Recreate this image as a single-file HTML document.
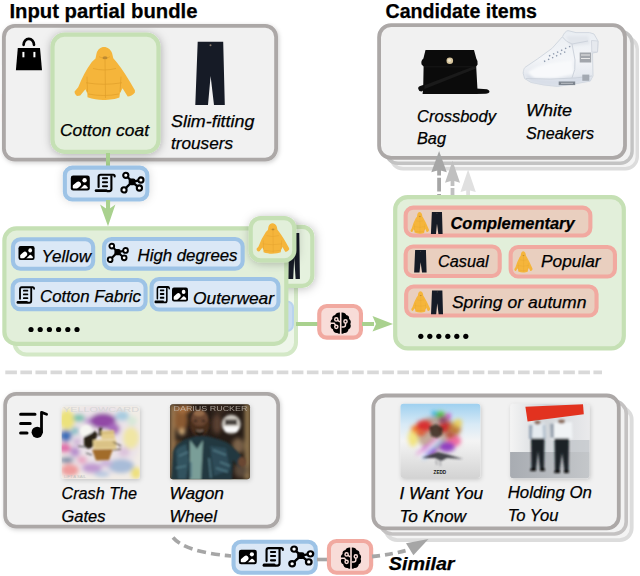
<!DOCTYPE html>
<html><head><meta charset="utf-8"><style>
html,body{margin:0;padding:0;background:#fff;width:640px;height:576px;overflow:hidden;}
svg{display:block;}
text{font-family:"Liberation Sans",sans-serif;}
</style></head><body>
<svg width="640" height="576" viewBox="0 0 640 576"><defs>
 <symbol id="img" viewBox="0 0 19 15" overflow="visible" preserveAspectRatio="none">
  <clipPath id="imgclip"><rect x="2" y="2" width="15" height="11" rx="0.8"/></clipPath>
  <rect x="0" y="0" width="19" height="15" rx="2.4" fill="#000"/>
  <g clip-path="url(#imgclip)">
   <rect x="-1.5" y="8.2" width="12.5" height="5.4" rx="2.7" transform="rotate(-40 4.8 10.9)" fill="#fff"/>
   <path d="M8.6,14 L13.2,9.6 Q14,8.9 14.8,9.6 L19.5,14 Z" fill="#fff"/>
  </g>
  <circle cx="13.8" cy="4.7" r="2.2" fill="#fff"/>
 </symbol>
 <symbol id="doc" viewBox="0 0 21 18.6" overflow="visible" preserveAspectRatio="none">
  <path d="M3.9,13.2 L3.9,3 Q3.9,1.05 5.9,1.05 L18.6,1.05 Q20,1.05 20,2.7" fill="none" stroke="#000" stroke-width="2.1" stroke-linecap="round"/>
  <path d="M16.7,1.5 L16.7,15.3 Q16.7,17.4 14.5,17.4 L12,17.4" fill="none" stroke="#000" stroke-width="2.1"/>
  <path d="M1.4,15.5 L11.6,15.5 Q12.9,15.5 12.9,16.95 Q12.9,18.4 11.6,18.4 L1.4,18.4 Q0,18.4 0,16.95 Q0,15.5 1.4,15.5 Z" fill="#000"/>
  <path d="M8.2,4.6 H12.4 M8.2,8.5 H12.4 M8.2,12.5 H12.4" stroke="#000" stroke-width="1.9" stroke-linecap="round"/>
 </symbol>
 <symbol id="graph" viewBox="0 0 22.5 20.5" overflow="visible" preserveAspectRatio="none">
  <path d="M4.7,2.8 L11,9.3 L2.9,17.4 M11,9.3 L19.8,7.5 M11,9.3 L18.3,15.5" stroke="#000" stroke-width="2.3" fill="none"/>
  <rect x="7.6" y="5.9" width="6.8" height="6.8" rx="2.2" fill="#000"/>
  <circle cx="4.7" cy="2.8" r="2.6" fill="#fff" stroke="#000" stroke-width="2.1"/>
  <circle cx="2.9" cy="17.4" r="2.6" fill="#fff" stroke="#000" stroke-width="2.1"/>
  <circle cx="19.8" cy="7.5" r="2.6" fill="#fff" stroke="#000" stroke-width="2.1"/>
  <circle cx="18.3" cy="15.5" r="2.6" fill="#fff" stroke="#000" stroke-width="2.1"/>
 </symbol>
 <symbol id="brain" viewBox="0 0 22 22" overflow="visible" preserveAspectRatio="none">
  <path d="M10.2,0.5 C7.5,0.3 6,1.5 5.5,3 C3.3,3.2 2.2,5 2.6,7 C0.8,8 0.4,10.5 1.4,12 C0.3,13.8 1,16.5 3.2,17.3 C3.4,19.8 5.4,21.3 7.6,21 C8.5,21.9 9.5,21.9 10.2,21.5 Z" fill="#000"/>
  <path d="M11.8,0.5 C14.5,0.3 16,1.5 16.5,3 C18.7,3.2 19.8,5 19.4,7 C21.2,8 21.6,10.5 20.6,12 C21.7,13.8 21,16.5 18.8,17.3 C18.6,19.8 16.6,21.3 14.4,21 C13.5,21.9 12.5,21.9 11.8,21.5 Z" fill="#000"/>
  <g fill="none" stroke="#f8dcd8" stroke-width="1.45">
   <circle cx="6.6" cy="7.4" r="1.6"/>
   <circle cx="6.6" cy="14.8" r="1.6"/>
   <path d="M8,8.3 L10.2,9.8 M0,11.2 L4.5,11.2 L5.8,13.2"/>
   <circle cx="15.8" cy="9.4" r="1.6"/>
   <path d="M15.8,11 L15.8,13 Q15.8,15 13.5,15 L11.8,15"/>
  </g>
 </symbol>
 <symbol id="coat" viewBox="2.3 3 60.7 51.9" overflow="visible" preserveAspectRatio="none">
  <path d="M32,3 C28.5,3 25.8,5.5 24.6,9 L23.5,14.2 L19.8,17.6 Q12,28 6.2,42.3 L2.6,46.5 C2.3,48.5 4,50.5 5.5,51 L8.2,50.6 L13.4,44.3 L15.3,48.5 L15.5,52.3 C21,54 26,54.8 31,54.8 C38,54.8 44,53.8 47.4,52.4 L47.9,48.5 L50.5,43.3 L55.7,51.5 C58,51.5 61,50 62.9,47.5 L62.9,45.4 Q53,28 44.5,17.6 L41.3,14 L40.1,9 C38.8,5.5 35.5,3 32,3 Z" fill="#f5b53b"/>
  <path d="M27,12.5 Q33,15.5 38,12.5 M33,15 L33.5,53 M15,32 L15.5,47 M49,32 L48,47 M14,38 Q32,41 50,38 M16,49 Q32,52 47,49 M21,24 Q32,27 44,24" fill="none" stroke="#de9d2a" stroke-width="0.9" opacity="0.75"/>
  <ellipse cx="33" cy="13.5" rx="2.5" ry="1.5" fill="#a87a30" opacity="0.7"/>
 </symbol>
 <symbol id="pants" viewBox="0 0 30 63" overflow="visible" preserveAspectRatio="none">
  <path d="M2.7,0 L28.2,0 L29.8,63 L19,63 L15.6,34 L13,63 L0.3,63 Z" fill="#161b26"/>
  <circle cx="15.5" cy="3.5" r="1" fill="#8a7a6a"/>
 </symbol>
 <filter id="sh" x="-20%" y="-20%" width="140%" height="140%">
  <feDropShadow dx="0.5" dy="1" stdDeviation="4.5" flood-color="#000" flood-opacity="0.28"/>
 </filter>
 <filter id="shs" x="-20%" y="-20%" width="140%" height="140%">
  <feDropShadow dx="1" dy="1.5" stdDeviation="2" flood-color="#000" flood-opacity="0.18"/>
 </filter>
 <filter id="sht" x="-50%" y="-50%" width="200%" height="200%">
  <feDropShadow dx="1" dy="1" stdDeviation="5" flood-color="#000" flood-opacity="0.25"/>
 </filter>
 <filter id="shb" x="-50%" y="-50%" width="200%" height="200%">
  <feDropShadow dx="0" dy="0" stdDeviation="4" flood-color="#000" flood-opacity="0.14"/>
 </filter>
 <filter id="bl2" x="-50%" y="-50%" width="200%" height="200%"><feGaussianBlur stdDeviation="2"/></filter>
 <filter id="bl3" x="-50%" y="-50%" width="200%" height="200%"><feGaussianBlur stdDeviation="3.5"/></filter>
 <filter id="bl1" x="-50%" y="-50%" width="200%" height="200%"><feGaussianBlur stdDeviation="1"/></filter>
 <clipPath id="c1"><rect x="61.6" y="406.2" width="78.2" height="72.8" rx="3"/></clipPath>
 <clipPath id="c2"><rect x="170" y="404.2" width="80" height="75" rx="3"/></clipPath>
 <clipPath id="c3"><rect x="400.5" y="403.8" width="79.8" height="74.2" rx="3"/></clipPath>
 <clipPath id="c4"><rect x="510.1" y="403.8" width="79.4" height="74.4" rx="3"/></clipPath>
</defs>
<text x="9.4" y="17.5" textLength="188.1" lengthAdjust="spacingAndGlyphs" font-family="Liberation Sans" font-size="20.3" font-style="normal" font-weight="bold" fill="#000" stroke="#000" stroke-width="0.25">Input partial bundle</text>
<text x="385.5" y="17.5" textLength="151.5" lengthAdjust="spacingAndGlyphs" font-family="Liberation Sans" font-size="20.3" font-style="normal" font-weight="bold" fill="#000" stroke="#000" stroke-width="0.25">Candidate items</text>
<g filter="url(#shs)"><rect x="3.90" y="25.90" width="272.20" height="133.70" rx="11" fill="#f1f1f1" stroke="#aca8a7" stroke-width="3.8" /></g>
<path d="M23.6,44.8 A5.2,6 0 0 1 34,44.8" fill="none" stroke="#000" stroke-width="2.7" stroke-linecap="round"/>
<path d="M17.8,48 L40,48 L42,70.2 L15.9,70.2 Z" fill="#000"/>
<rect x="22.4" y="51.9" width="2" height="5.4" fill="#fff"/><rect x="33.4" y="51.9" width="2" height="5.4" fill="#fff"/>
<g filter="url(#sh)"><rect x="52.50" y="34.70" width="106.00" height="117.20" rx="12" fill="#e2efda" stroke="#c5e0b4" stroke-width="4.2" /></g>
<use href="#coat" x="74.30" y="47.00" width="60.70" height="53.00"/>
<text x="60" y="135.7" textLength="89.0" lengthAdjust="spacingAndGlyphs" font-family="Liberation Sans" font-size="17" font-style="italic" font-weight="normal" fill="#000" stroke="#000" stroke-width="0.25">Cotton coat</text>
<use href="#pants" x="195.00" y="41.80" width="30.00" height="63.20"/>
<text x="171" y="127" textLength="83.4" lengthAdjust="spacingAndGlyphs" font-family="Liberation Sans" font-size="17" font-style="italic" font-weight="normal" fill="#000" stroke="#000" stroke-width="0.25">Slim-fitting</text>
<text x="171" y="149" textLength="62.0" lengthAdjust="spacingAndGlyphs" font-family="Liberation Sans" font-size="17" font-style="italic" font-weight="normal" fill="#000" stroke="#000" stroke-width="0.25">trousers</text>
<rect x="106" y="153" width="4" height="14" fill="#a9d18e"/>
<g filter="url(#shb)"><rect x="64.85" y="167.65" width="82.50" height="31.80" rx="7.5" fill="#dbe8f6" stroke="#9dc3e6" stroke-width="4.1" /></g>
<use href="#img" x="70.80" y="175.60" width="19.00" height="15.00"/>
<use href="#doc" x="94.70" y="173.70" width="21.00" height="18.60"/>
<use href="#graph" x="121.10" y="172.50" width="22.50" height="20.50"/>
<rect x="106" y="200" width="4.1" height="11" fill="#a9d18e"/>
<path d="M100.1,204.4 L108,209.7 L115.4,204.4 L108,226.3 Z" fill="#a9d18e"/>
<rect x="14.50" y="238.50" width="281.50" height="116.00" rx="12" fill="#eef6ea" stroke="#d3e8c6" stroke-width="4" />
<rect x="280" y="301.5" width="13" height="29.5" rx="6" fill="#c9dcf0" stroke="#b9d3ee" stroke-width="2"/>
<g filter="url(#sht)"><rect x="264.10" y="226.80" width="48.20" height="59.00" rx="10" fill="#e5f1de" stroke="#c5e0b4" stroke-width="4.2" /></g>
<use href="#pants" x="288.00" y="233.00" width="12.00" height="46.00"/>
<rect x="4.40" y="228.40" width="281.90" height="115.50" rx="12" fill="#e2efda" stroke="#c5e0b4" stroke-width="4.2" />
<g filter="url(#sht)"><rect x="250.70" y="218.10" width="43.60" height="42.30" rx="10" fill="#e2efda" stroke="#c5e0b4" stroke-width="4.2" /></g>
<use href="#coat" x="256.40" y="223.30" width="32.80" height="30.50"/>
<rect x="12.95" y="239.25" width="80.20" height="29.50" rx="7.5" fill="#dbe8f6" stroke="#9dc3e6" stroke-width="4.1" />
<use href="#img" x="18.50" y="246.00" width="16.10" height="14.00"/>
<text x="41.6" y="262" textLength="49.4" lengthAdjust="spacingAndGlyphs" font-family="Liberation Sans" font-size="17" font-style="italic" font-weight="normal" fill="#000" stroke="#000" stroke-width="0.25">Yellow</text>
<rect x="104.05" y="239.05" width="138.60" height="29.60" rx="7.5" fill="#dbe8f6" stroke="#9dc3e6" stroke-width="4.1" />
<use href="#graph" x="107.50" y="243.50" width="20.50" height="19.00"/>
<text x="137.5" y="260.5" textLength="100.0" lengthAdjust="spacingAndGlyphs" font-family="Liberation Sans" font-size="17" font-style="italic" font-weight="normal" fill="#000" stroke="#000" stroke-width="0.25">High degrees</text>
<rect x="12.65" y="280.05" width="132.90" height="29.10" rx="7.5" fill="#dbe8f6" stroke="#9dc3e6" stroke-width="4.1" />
<use href="#doc" x="16.60" y="286.30" width="18.40" height="17.70"/>
<text x="40" y="302.2" textLength="101.0" lengthAdjust="spacingAndGlyphs" font-family="Liberation Sans" font-size="17" font-style="italic" font-weight="normal" fill="#000" stroke="#000" stroke-width="0.25">Cotton Fabric</text>
<rect x="151.55" y="279.05" width="126.90" height="30.50" rx="7.5" fill="#dbe8f6" stroke="#9dc3e6" stroke-width="4.1" />
<use href="#doc" x="154.50" y="286.00" width="15.50" height="17.50"/>
<use href="#img" x="172.00" y="287.50" width="16.00" height="14.00"/>
<text x="193" y="303.5" textLength="81.0" lengthAdjust="spacingAndGlyphs" font-family="Liberation Sans" font-size="17" font-style="italic" font-weight="normal" fill="#000" stroke="#000" stroke-width="0.25">Outerwear</text>
<circle cx="31.0" cy="329.5" r="2.6" fill="#000"/>
<circle cx="40.2" cy="329.5" r="2.6" fill="#000"/>
<circle cx="49.4" cy="329.5" r="2.6" fill="#000"/>
<circle cx="58.6" cy="329.5" r="2.6" fill="#000"/>
<circle cx="67.8" cy="329.5" r="2.6" fill="#000"/>
<circle cx="77.0" cy="329.5" r="2.6" fill="#000"/>
<rect x="296" y="322" width="22" height="4" fill="#a9d18e"/>
<rect x="319.25" y="306.05" width="41.70" height="31.60" rx="7.5" fill="#f8dcd8" stroke="#f1a9a0" stroke-width="4.1" />
<use href="#brain" x="329.70" y="312.00" width="22.00" height="22.00"/>
<rect x="362" y="322" width="12" height="4" fill="#a9d18e"/>
<path d="M372.5,316 L376,324 L372.5,331.5 L393,324 Z" fill="#a9d18e"/>
<rect x="390.90" y="37.30" width="246.40" height="131.40" rx="12" fill="#f4f4f4" stroke="#dcdcdc" stroke-width="3.4" />
<rect x="385.90" y="31.30" width="246.20" height="132.00" rx="12" fill="#f2f2f2" stroke="#c3c3c3" stroke-width="3.4" />
<rect x="379.10" y="25.20" width="245.90" height="132.60" rx="12" fill="#f1f1f1" stroke="#aca8a7" stroke-width="3.8" />
<g>
<path d="M425.5,50 L474,50 L476.3,58.5 Q478.2,61 477.6,64.5 L476.2,66.5 L477.4,88 L477.4,94 L422.6,94 L423.2,88 L423.6,66.5 L421.6,64.5 Q420.6,60.5 423.4,58.5 Z" fill="#0b0b0b"/>
<path d="M424,66.8 L476,66.8" stroke="#1c1c1c" stroke-width="0.8"/>
<path d="M424,85.5 L472,67 L476,67.3 L476,68.6 L424,89.2 Z" fill="#1a1a1a"/>
<path d="M418.3,89 Q417.6,86.8 420.2,86 L424.5,84.6 L424.5,89.8 L421.5,91.6 Q418.9,91.6 418.3,89 Z" fill="#0e0e0e"/>
<path d="M476,88.4 L487,89.3 Q490.3,90.5 489.2,92.6 Q488.5,93.7 486,93.7 L476,94 Z" fill="#0b0b0b"/>
<circle cx="449.8" cy="60.8" r="3.3" fill="#d6c49c"/>
<circle cx="449.4" cy="60.3" r="1.6" fill="#ece2c8"/>
</g>
<g>
<defs><linearGradient id="gsn" x1="0" y1="0" x2="0" y2="1"><stop offset="0" stop-color="#e9edf2"/><stop offset="0.5" stop-color="#f3f5f8"/><stop offset="1" stop-color="#dde2ea"/></linearGradient></defs>
<path d="M523.2,73.2 C523.5,69 524.5,67.5 526,66.7 L537.7,58.8 L552.1,48.3 L562.6,36.5 C564,33 566,31 568,30.6 L576,32.6 L589.5,32.6 L594,34 L598,41 L597.5,52 L592.5,53 L593,76 L590.2,81.1 L575.7,83.7 L557.4,86.4 L544.2,85 L531,82.4 L524.6,78.5 Z" fill="url(#gsn)" stroke="#d2d8e0" stroke-width="1"/>
<g filter="url(#bl1)">
<path d="M528,72 Q540,64 556,62 L572,60 L574,74 L556,78 L534,78 Z" fill="#f8f9fb"/>
<path d="M566,36 L588,36 L590,44 L570,46 Z" fill="#e2e6ec"/>
<path d="M525,74 Q535,80 555,80 L590,76 L591,80 L575,83 L557,85.5 L544,84.5 L531,82 Z" fill="#d8dee8"/>
</g>
<path d="M549,56 L571,46 M544,61.5 L566,51.5" stroke="#8e9aae" stroke-width="1.4" stroke-dasharray="1.4 3" fill="none"/>
<path d="M562.5,37 Q566,42 572,44 L588,41 M572,44 L575,60 Q576,70 572,78 M526,78.5 Q550,80 575,78 L592,76" stroke="#cdd3dc" stroke-width="1" fill="none"/>
<path d="M591.5,40.5 L598,41 L597.5,52 L591.8,52.2 Z" fill="#e6e9ee" stroke="#cdd2da" stroke-width="0.8"/>
<rect x="579.7" y="52.5" width="11.5" height="10" fill="#a2a6ac"/>
<path d="M581,55 H590 M581,58.5 H590" stroke="#e8e8e8" stroke-width="1"/>
<rect x="558.7" y="81.5" width="16.5" height="3.6" fill="#7e8690"/>
<path d="M561,83.3 H573" stroke="#c8ccd2" stroke-width="0.8"/>
<rect x="582.3" y="74.6" width="7" height="6.2" fill="#a4aab2"/>
</g>
<text x="417" y="122" textLength="79.0" lengthAdjust="spacingAndGlyphs" font-family="Liberation Sans" font-size="17" font-style="italic" font-weight="normal" fill="#000" stroke="#000" stroke-width="0.25">Crossbody</text>
<text x="417" y="144" textLength="29.0" lengthAdjust="spacingAndGlyphs" font-family="Liberation Sans" font-size="17" font-style="italic" font-weight="normal" fill="#000" stroke="#000" stroke-width="0.25">Bag</text>
<text x="526" y="116" textLength="46.0" lengthAdjust="spacingAndGlyphs" font-family="Liberation Sans" font-size="17" font-style="italic" font-weight="normal" fill="#000" stroke="#000" stroke-width="0.25">White</text>
<text x="526" y="139" textLength="68.0" lengthAdjust="spacingAndGlyphs" font-family="Liberation Sans" font-size="17" font-style="italic" font-weight="normal" fill="#000" stroke="#000" stroke-width="0.25">Sneakers</text>
<path d="M439.1,169 L439.1,195" stroke="#a6a6a6" stroke-width="3.8" stroke-dasharray="6.5 2.2 13.7 2.5"/>
<path d="M439.1,151 L446.8,172.3 L439.1,170 L431.3,172.3 Z" fill="#a6a6a6"/>
<path d="M452.5,179 L452.5,195" stroke="#c0c0c0" stroke-width="3.8" stroke-dasharray="7 2 13 2.5"/>
<path d="M452.5,160.8 L460,182.7 L452.5,180.5 L445,182.7 Z" fill="#c0c0c0"/>
<path d="M468.1,169.5 L475.8,192 L468.1,190 L460.5,192 Z" fill="#e0e0e0"/>
<rect x="466.2" y="189" width="3.8" height="6" fill="#e0e0e0"/>
<rect x="395.20" y="197.10" width="228.60" height="151.30" rx="12.5" fill="#e2efda" stroke="#c5e0b4" stroke-width="4.2" />
<rect x="405.65" y="207.65" width="184.70" height="27.80" rx="7.5" fill="#e9cfbf" stroke="#f1a9a0" stroke-width="4.1" />
<use href="#coat" x="410.50" y="212.00" width="18.50" height="21.70"/>
<use href="#pants" x="430.80" y="212.00" width="11.90" height="22.00"/>
<text x="450.5" y="228.75" textLength="124.1" lengthAdjust="spacingAndGlyphs" font-family="Liberation Sans" font-size="17" font-style="italic" font-weight="bold" fill="#000" stroke="#000" stroke-width="0.25">Complementary</text>
<rect x="405.65" y="246.45" width="94.05" height="29.50" rx="7.5" fill="#e9cfbf" stroke="#f1a9a0" stroke-width="4.1" />
<use href="#pants" x="414.00" y="250.00" width="12.70" height="22.50"/>
<text x="438" y="267" textLength="50.6" lengthAdjust="spacingAndGlyphs" font-family="Liberation Sans" font-size="17" font-style="italic" font-weight="normal" fill="#000" stroke="#000" stroke-width="0.25">Casual</text>
<rect x="510.65" y="247.05" width="104.30" height="29.50" rx="7.5" fill="#e9cfbf" stroke="#f1a9a0" stroke-width="4.1" />
<use href="#coat" x="514.30" y="251.20" width="18.20" height="21.30"/>
<text x="541" y="267.4" textLength="59.6" lengthAdjust="spacingAndGlyphs" font-family="Liberation Sans" font-size="17" font-style="italic" font-weight="normal" fill="#000" stroke="#000" stroke-width="0.25">Popular</text>
<rect x="406.15" y="286.55" width="190.40" height="29.00" rx="7.5" fill="#e9cfbf" stroke="#f1a9a0" stroke-width="4.1" />
<use href="#coat" x="411.20" y="291.20" width="18.90" height="21.30"/>
<use href="#pants" x="430.90" y="290.60" width="12.20" height="23.60"/>
<text x="451.9" y="307.5" textLength="134.5" lengthAdjust="spacingAndGlyphs" font-family="Liberation Sans" font-size="17" font-style="italic" font-weight="normal" fill="#000" stroke="#000" stroke-width="0.25">Spring or autumn</text>
<circle cx="420.8" cy="336.3" r="2.6" fill="#000"/>
<circle cx="429.8" cy="336.3" r="2.6" fill="#000"/>
<circle cx="438.8" cy="336.3" r="2.6" fill="#000"/>
<circle cx="447.8" cy="336.3" r="2.6" fill="#000"/>
<circle cx="456.8" cy="336.3" r="2.6" fill="#000"/>
<circle cx="465.8" cy="336.3" r="2.6" fill="#000"/>
<path d="M5.3,372.4 L602,372.4" stroke="#d9d9d9" stroke-width="3.6" stroke-dasharray="11.6 3.48"/>
<g filter="url(#shs)"><rect x="5.15" y="393.85" width="273.00" height="132.80" rx="11" fill="#f1f1f1" stroke="#aca8a7" stroke-width="3.7" /></g>
<path d="M20.6,414.3 H35 M20.6,423.6 H30.2 M20.6,433 H27" stroke="#000" stroke-width="3" stroke-linecap="round"/>
<circle cx="37.2" cy="432.3" r="5.6" fill="#000"/>
<path d="M41.5,432 L41.5,412.4 L46.6,414.3" fill="none" stroke="#000" stroke-width="2.8" stroke-linecap="round" stroke-linejoin="round"/>

<g filter="url(#shs)"><rect x="61.6" y="406.2" width="78.2" height="72.8" rx="3" fill="#f1ece6"/></g>
<g clip-path="url(#c1)">
 <g filter="url(#bl2)">
  <ellipse cx="100" cy="440" rx="40" ry="36" fill="#ebe3e8"/>
  <ellipse cx="67" cy="420" rx="8" ry="10" fill="#ece27c"/>
  <ellipse cx="79" cy="418" rx="6" ry="4" fill="#7cc2b0"/>
  <ellipse cx="90" cy="421" rx="6" ry="4" fill="#c6a4d6"/>
  <ellipse cx="103" cy="421" rx="13" ry="8" fill="#9248a6"/>
  <ellipse cx="114" cy="429" rx="6" ry="6" fill="#a86cbe"/>
  <ellipse cx="122" cy="416" rx="7" ry="5" fill="#a8cce0"/>
  <ellipse cx="132" cy="421" rx="5" ry="5" fill="#d8e8d8"/>
  <ellipse cx="66" cy="436" rx="6" ry="6" fill="#3f6fb8"/>
  <ellipse cx="75" cy="431" rx="4" ry="4" fill="#8cc0c8"/>
  <ellipse cx="77" cy="442" rx="4" ry="4" fill="#d0b8d8"/>
  <ellipse cx="65" cy="448" rx="6" ry="5" fill="#e070aa"/>
  <ellipse cx="75" cy="452" rx="5" ry="5" fill="#b890cc"/>
  <ellipse cx="67" cy="460" rx="7" ry="3" fill="#7a8aa4"/>
  <ellipse cx="70" cy="470" rx="9" ry="6" fill="#ee9c9c"/>
  <ellipse cx="131" cy="438" rx="8" ry="11" fill="#f0e6a4"/>
  <ellipse cx="124" cy="452" rx="6" ry="5" fill="#dcc4dc"/>
  <ellipse cx="121" cy="466" rx="13" ry="7" fill="#a8bcd8"/>
  <ellipse cx="92" cy="468" rx="10" ry="5" fill="#c09ad0"/>
  <ellipse cx="106" cy="463" rx="6" ry="4" fill="#ccb4d8"/>
  <ellipse cx="136" cy="473" rx="5" ry="6" fill="#eee07c"/>
  <ellipse cx="82" cy="460" rx="5" ry="4" fill="#e8a8c4"/>
  <ellipse cx="102" cy="474" rx="8" ry="3" fill="#b8c8e0"/>
 </g>
 <g filter="url(#bl1)">
  <circle cx="86" cy="431" r="6" fill="#f6f6f2"/>
  <path d="M84,437 L90,434 L95,431 L98,434 L95,441 L93,447 L88,449 L84,445 Z" fill="#2a2018"/>
  <path d="M99,428 L102,427.5 L102,436 L99,436 Z" fill="#2a2018"/>
  <path d="M101,431 L114,430 L115,439 L101.5,439.5 Z" fill="#e3cc8c"/>
  <path d="M93,440 L116,439.5 L116.5,449 L93.5,449.5 Z" fill="#e6d094"/>
  <path d="M101,433 L114,432.5 M95,443 L116,442.5 M95,446 L116,445.5" stroke="#b89a5c" stroke-width="0.8"/>
  <path d="M92,449.5 L113,449 L109,460 L96,460.5 Z" fill="#a26c2a"/>
  <path d="M113,442 L121,446 M113,450 L121,449" stroke="#4a3a30" stroke-width="1.2"/>
  <path d="M78,446 L86,447 M86,453 L92,455" stroke="#3a3a3a" stroke-width="1"/>
 </g>
 <text x="63" y="412.3" font-family="Liberation Sans" font-size="6.5" fill="#d6d6d6" textLength="76" lengthAdjust="spacingAndGlyphs">YELLOWCARD</text>
 <text x="64" y="477.5" font-family="Liberation Sans" font-size="4" fill="#c0c0c0" textLength="22" lengthAdjust="spacingAndGlyphs">LIFT A SAIL</text>
</g>


<g filter="url(#shs)"><rect x="170" y="404.2" width="80" height="75" rx="3" fill="#261c15"/></g>
<g clip-path="url(#c2)">
 <g filter="url(#bl2)">
  <rect x="170" y="404" width="5" height="76" fill="#a07e54"/>
  <rect x="245" y="404" width="5" height="76" fill="#a08458"/>
  <ellipse cx="181" cy="420" rx="7" ry="12" fill="#8a5a30"/>
  <ellipse cx="184" cy="409" rx="9" ry="4" fill="#a87040"/>
  <circle cx="182" cy="432" r="3" fill="#e8c088"/>
  <ellipse cx="179" cy="446" rx="5" ry="6" fill="#6a4628"/>
  <ellipse cx="217" cy="424" rx="5" ry="10" fill="#5a4030"/>
  <ellipse cx="238" cy="446" rx="6" ry="8" fill="#7a6248"/>
  <ellipse cx="241" cy="470" rx="7" ry="8" fill="#5a4a3a"/>
  <ellipse cx="220" cy="409" rx="8" ry="4" fill="#3a2c22"/>
 </g>
 <g filter="url(#bl1)">
  <path d="M171,480 L173,452 Q175,443 186,439 L196,436 L206,436 Q220,439 228,443 L238,452 L244,460 L240,468 L233,460 L232,480 Z" fill="#223840"/>
  <path d="M176,450 Q180,446 186,444 L189,460 L186,479 L178,479 Z" fill="#33525e"/>
  <path d="M210,446 L226,448 L230,470 L214,476 Z" fill="#2e4c58"/>
  <path d="M190,440 L197,449 L203,440 L201,480 L190,480 Z" fill="#7a9e98"/>
  <path d="M179,456 L188,452 M213,450 L226,455 M191,462 L191,478 M209,458 L211,478 M220,462 L230,466 M176,468 L186,466 M216,468 L228,472" stroke="#507884" stroke-width="1.5"/>
  <ellipse cx="199.6" cy="423.5" rx="10" ry="12.8" fill="#4a2e1e"/>
  <ellipse cx="199.6" cy="418" rx="8.5" ry="8" fill="#6a4632"/>
  <ellipse cx="199" cy="413" rx="5.5" ry="3.2" fill="#946a4a"/>
  <ellipse cx="195.5" cy="421" rx="1.6" ry="0.9" fill="#1a100a"/>
  <ellipse cx="203.5" cy="421" rx="1.6" ry="0.9" fill="#1a100a"/>
  <path d="M195,429.5 Q199.6,434 204.5,429.5 L204,433.5 Q199.6,438.5 195.5,433.5 Z" fill="#1e120c"/>
  <path d="M196.5,430.5 Q199.6,432 203,430.5" stroke="#c8b8a8" stroke-width="0.8" fill="none"/>
  <ellipse cx="242" cy="462" rx="4" ry="5" fill="#6a4630"/>
  <circle cx="231.2" cy="424.2" r="10.2" fill="#7e7872"/>
  <circle cx="231.2" cy="424.2" r="8.6" fill="#cfcac2"/>
  <path d="M223,426.5 L239.5,426.5 L236.5,432 L226,432 Z" fill="#fafafa"/>
  <path d="M225,419.5 L237,419.5 L237,425 L225,425 Z" fill="#4a4440"/>
 </g>
 <text x="173.5" y="410.8" font-family="Liberation Sans" font-size="6.4" fill="#c4bcb2" opacity="0.8" textLength="74" lengthAdjust="spacingAndGlyphs">DARIUS RUCKER</text>
</g>

<text x="61.5" y="499.3" textLength="75.5" lengthAdjust="spacingAndGlyphs" font-family="Liberation Sans" font-size="17" font-style="italic" font-weight="normal" fill="#000" stroke="#000" stroke-width="0.25">Crash The</text>
<text x="61.5" y="521.6" textLength="43.9" lengthAdjust="spacingAndGlyphs" font-family="Liberation Sans" font-size="17" font-style="italic" font-weight="normal" fill="#000" stroke="#000" stroke-width="0.25">Gates</text>
<text x="169.4" y="498.6" textLength="54.6" lengthAdjust="spacingAndGlyphs" font-family="Liberation Sans" font-size="17" font-style="italic" font-weight="normal" fill="#000" stroke="#000" stroke-width="0.25">Wagon</text>
<text x="169.4" y="521.6" textLength="47.5" lengthAdjust="spacingAndGlyphs" font-family="Liberation Sans" font-size="17" font-style="italic" font-weight="normal" fill="#000" stroke="#000" stroke-width="0.25">Wheel</text>
<rect x="385.30" y="407.50" width="246.40" height="132.60" rx="12" fill="#f4f4f4" stroke="#dcdcdc" stroke-width="3.8" />
<rect x="380.20" y="401.40" width="246.00" height="132.60" rx="12" fill="#f2f2f2" stroke="#c4c2c2" stroke-width="3.6" />
<rect x="373.30" y="395.50" width="245.50" height="132.90" rx="12" fill="#f1f1f1" stroke="#aca8a7" stroke-width="3.8" />

<g filter="url(#shs)"><rect x="400.5" y="403.8" width="79.8" height="74.2" rx="3" fill="#eeeeee"/></g>
<g clip-path="url(#c3)">
 <defs><linearGradient id="g3" x1="0" y1="0" x2="0" y2="1">
  <stop offset="0" stop-color="#9ccfef"/><stop offset="0.28" stop-color="#d8eaf6"/><stop offset="0.5" stop-color="#f4f4f4"/><stop offset="1" stop-color="#d2d2d2"/></linearGradient></defs>
 <rect x="400" y="403" width="81" height="76" fill="url(#g3)"/>
 <g filter="url(#bl2)">
  <ellipse cx="437" cy="433" rx="22" ry="17" fill="#a07050" opacity="0.55"/>
  <ellipse cx="413" cy="438" rx="5" ry="9" fill="#f2e480"/>
  <ellipse cx="416" cy="429" rx="5" ry="4" fill="#f08030"/>
  <ellipse cx="424" cy="426" rx="8" ry="6" fill="#d83030"/>
  <ellipse cx="445" cy="427" rx="6" ry="6" fill="#c83030"/>
  <ellipse cx="455" cy="429" rx="6" ry="6" fill="#c08040"/>
  <ellipse cx="458" cy="423" rx="4" ry="4" fill="#e8d060"/>
  <ellipse cx="440" cy="414.5" rx="6" ry="3" fill="#50c040"/>
  <ellipse cx="434" cy="413.5" rx="2.5" ry="2.5" fill="#20b0e0"/>
  <ellipse cx="448" cy="416" rx="3" ry="2.5" fill="#d040c0"/>
  <ellipse cx="454" cy="441" rx="7" ry="5.5" fill="#f070a0"/>
  <ellipse cx="447" cy="447" rx="8" ry="5" fill="#9040c0"/>
  <ellipse cx="430" cy="451" rx="7" ry="4.5" fill="#a848c8"/>
 </g>
 <g filter="url(#bl2)" opacity="0.85">
  <path d="M439,437 L418,456 L421,458 L441,440 Z" fill="#f8f8ff"/>
  <path d="M441,439 L422,458 L424,459.5 L443,441 Z" fill="#70b0f0"/>
  <path d="M437,436 L416,454 L418,455.5 L439,438 Z" fill="#e070d0"/>
  <ellipse cx="421" cy="433" rx="4" ry="3" fill="#e85020"/>
  <ellipse cx="450" cy="435" rx="4" ry="3" fill="#b04020"/>
  <ellipse cx="443" cy="420" rx="4" ry="3" fill="#803060"/>
 </g>
 <g filter="url(#bl1)">
  <path d="M429,427 L436,424 L443,428 L442,435 L437,438 L431,436 Z" fill="#2a1a12" opacity="0.75"/>
  <path d="M422,458 L432,454 L438,452 L446,454 L463,459 L447,458 L441,461 L435,458 Z" fill="#34343c" opacity="0.9"/>
  <path d="M436,460 L437,465 M440,460 L440.5,466" stroke="#8a8a90" stroke-width="1"/>
 </g>
 <text x="433.6" y="473.6" font-family="Liberation Sans" font-weight="bold" font-size="6" fill="#111" textLength="12.6" lengthAdjust="spacingAndGlyphs">ZEDD</text>
</g>


<g filter="url(#shs)"><rect x="510.1" y="403.8" width="79.4" height="74.4" rx="3" fill="#e8e8e8"/></g>
<g clip-path="url(#c4)">
 <defs>
  <linearGradient id="g4a" x1="0" y1="0" x2="1" y2="0"><stop offset="0" stop-color="#f4f4f4"/><stop offset="0.45" stop-color="#d2d6da"/><stop offset="1" stop-color="#eaeaec"/></linearGradient>
  <linearGradient id="g4b" x1="0" y1="0" x2="1" y2="0"><stop offset="0" stop-color="#a8acb2"/><stop offset="1" stop-color="#c4c7ca"/></linearGradient>
 </defs>
 <rect x="510" y="403" width="80" height="50" fill="url(#g4a)"/>
 <rect x="510" y="452" width="80" height="27" fill="url(#g4b)"/>
 <rect x="562" y="440" width="28" height="12" fill="#b8bcc2" opacity="0.6"/>
 <path d="M525.4,406.8 L583,404.3 L583.8,414.2 L527.6,421.4 Z" fill="#e2321f"/>
 <g filter="url(#bl1)">
  <path d="M529,424.5 L545.5,423.5 L546,439 L529,439 Z" fill="#e4eaef"/>
  <path d="M529,425 L532.5,425 L532,439 L529,439 Z" fill="#9aa8b8"/>
  <path d="M542.5,425 L545.5,424.5 L546,439 L543,439 Z" fill="#b8c4d0"/>
  <ellipse cx="537.5" cy="422.5" rx="3" ry="2" fill="#8a6a5a"/>
  <path d="M531,438.5 L544.5,438.5 L544,469 L540,469 L538,451 L536,469 L531.5,469 Z" fill="#1a2226"/>
  <path d="M531,468 L536,468 L536,471 L530,471 Z M540,468 L544.5,468 L545,471 L540,471 Z" fill="#0c0c0c"/>
  <path d="M550,423 L572,422 L572.5,439 L550.5,439 Z" fill="#f0f3f5"/>
  <path d="M550,423.5 L554,423.5 L554,438 L550.5,438 Z" fill="#9aa4b0"/>
  <ellipse cx="561.5" cy="421.5" rx="3.5" ry="2" fill="#8a6a5a"/>
  <path d="M554.5,438.5 L569,438.5 L568.5,471 L564.5,471 L562,453 L559.5,471 L555,471 Z" fill="#1a2226"/>
  <path d="M555,470 L560,470 L560,473 L554,473 Z M564,470 L568.5,470 L569,473 L564,473 Z" fill="#0c0c0c"/>
 </g>
</g>

<text x="399.4" y="498.9" textLength="83.8" lengthAdjust="spacingAndGlyphs" font-family="Liberation Sans" font-size="17" font-style="italic" font-weight="normal" fill="#000" stroke="#000" stroke-width="0.25">I Want You</text>
<text x="399.4" y="521.6" textLength="66.6" lengthAdjust="spacingAndGlyphs" font-family="Liberation Sans" font-size="17" font-style="italic" font-weight="normal" fill="#000" stroke="#000" stroke-width="0.25">To Know</text>
<text x="507.7" y="497.6" textLength="84.2" lengthAdjust="spacingAndGlyphs" font-family="Liberation Sans" font-size="17" font-style="italic" font-weight="normal" fill="#000" stroke="#000" stroke-width="0.25">Holding On</text>
<text x="507.7" y="521.2" textLength="50.7" lengthAdjust="spacingAndGlyphs" font-family="Liberation Sans" font-size="17" font-style="italic" font-weight="normal" fill="#000" stroke="#000" stroke-width="0.25">To You</text>
<path d="M173,537.5 Q185,552 231,556" fill="none" stroke="#a6a6a6" stroke-width="3.6" stroke-dasharray="9 5"/>
<rect x="233.55" y="541.75" width="82.20" height="31.00" rx="7.5" fill="#dbe8f6" stroke="#9dc3e6" stroke-width="4.1" />
<use href="#img" x="238.90" y="549.80" width="17.90" height="14.50"/>
<use href="#doc" x="262.60" y="547.00" width="21.30" height="19.90"/>
<use href="#graph" x="289.00" y="546.30" width="24.30" height="20.60"/>
<rect x="317" y="557.7" width="11" height="3.6" fill="#a6a6a6"/>
<rect x="328.95" y="541.05" width="42.20" height="31.70" rx="7.5" fill="#f8dcd8" stroke="#f1a9a0" stroke-width="4.1" />
<use href="#brain" x="340.00" y="547.00" width="22.00" height="22.00"/>
<path d="M372,556.5 Q392,554.5 410,549.5" fill="none" stroke="#a6a6a6" stroke-width="3.8" stroke-dasharray="8 5"/>
<path d="M406,543.3 L428.5,539 L413.4,555.3 Z" fill="#a6a6a6"/>
<text x="388.75" y="570" textLength="65.8" lengthAdjust="spacingAndGlyphs" font-family="Liberation Sans" font-size="18" font-style="italic" font-weight="bold" fill="#000" stroke="#000" stroke-width="0.25">Similar</text></svg>
</body></html>
